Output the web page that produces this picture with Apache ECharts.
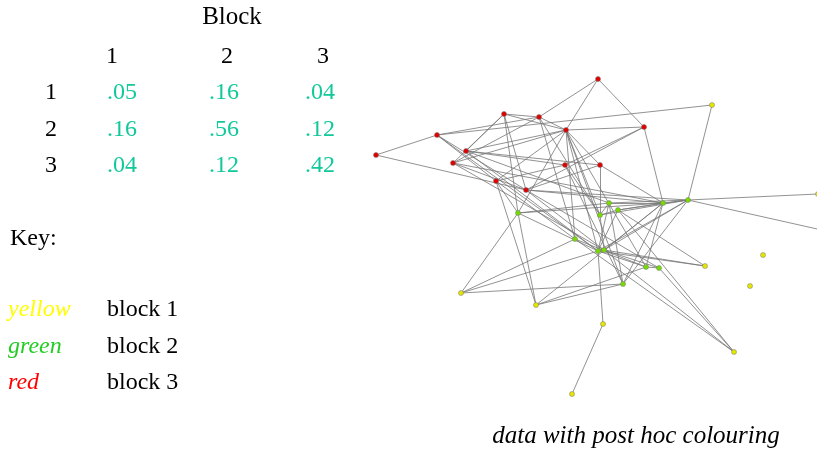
<!DOCTYPE html>
<html>
<head>
<meta charset="utf-8">
<script src="https://cdn.jsdelivr.net/npm/echarts@6/dist/echarts.min.js"></script>
<style>
  html, body { margin: 0; padding: 0; background: #fff; }
  #main { width: 817px; height: 449px; }
</style>
</head>
<body>
<div id="main"></div>
<script>
// block probability table
var blockNames = ['1', '2', '3'];
var probRow1 = ['.05', '.16', '.04'];
var probRow2 = ['.16', '.56', '.12'];
var probRow3 = ['.04', '.12', '.42'];

// key
var keyWords = ['yellow', 'green', 'red'];
var keyLabels = ['block 1', 'block 2', 'block 3'];
var keyColors = ['#ffff00', '#22cc22', '#ff0000'];

// network nodes (layout coordinates) and their block (1 yellow, 2 green, 3 red)
var nodeX = [376, 437, 504, 539, 566, 466, 453, 565, 496, 526, 598, 644, 600,
             518, 609, 618, 600, 663, 688, 575, 598, 604, 646, 659, 623,
             712, 818, 461, 536, 705, 763, 750, 603, 734, 572, 835];
var nodeY = [155, 135, 114, 117, 130, 151, 163, 165, 181, 190, 79, 127, 165,
             213, 203, 210, 215, 203, 200, 239, 251, 250, 267, 268, 284,
             105, 194, 293, 305, 266, 255, 286, 324, 352, 394, 233];
var nodeBlock = [3, 3, 3, 3, 3, 3, 3, 3, 3, 3, 3, 3, 3,
                 2, 2, 2, 2, 2, 2, 2, 2, 2, 2, 2, 2,
                 1, 1, 1, 1, 1, 1, 1, 1, 1, 1, 1];

// edges as [source, target]
var edges = [
  [0, 1], [0, 9],
  [1, 3], [1, 25], [1, 8], [1, 9], [1, 20],
  [2, 3], [2, 4], [2, 5], [2, 6], [2, 9], [2, 13],
  [3, 10], [3, 4], [3, 6], [3, 16], [3, 19],
  [4, 10], [4, 11], [4, 5], [4, 6], [4, 8], [4, 13], [4, 16], [4, 19], [4, 20], [4, 22], [4, 12], [4, 24],
  [5, 12], [5, 7], [5, 20], [5, 14],
  [6, 9], [6, 21], [6, 17],
  [7, 16], [7, 8], [7, 11], [7, 24],
  [8, 13], [8, 28], [8, 19],
  [9, 17], [9, 18], [9, 21], [9, 23],
  [10, 11],
  [11, 17], [11, 9],
  [12, 16], [12, 17], [12, 9],
  [13, 17], [13, 14], [13, 27], [13, 28], [13, 20],
  [14, 17], [14, 18], [14, 16], [14, 20],
  [15, 17], [15, 18], [15, 29], [15, 33], [15, 20], [15, 16],
  [16, 18], [16, 21],
  [17, 18], [17, 22], [17, 21], [17, 28],
  [18, 26], [18, 35], [18, 25], [18, 20], [18, 21], [18, 24],
  [19, 27], [19, 33], [19, 22],
  [20, 21], [20, 22], [20, 32], [20, 29], [20, 27],
  [21, 23], [21, 29], [21, 33],
  [22, 23], [22, 28],
  [23, 33],
  [24, 28], [24, 27], [24, 17], [24, 14],
  [32, 34]
];

var nodeFill = { 1: '#e6e600', 2: '#77dd00', 3: '#e00000' };

var myChart = echarts.init(document.getElementById('main'));

var nodes = [];
for (var i = 0; i < nodeX.length; i++) {
  nodes.push({
    value: [nodeX[i], nodeY[i]],
    itemStyle: { color: nodeFill[nodeBlock[i]] }
  });
}
var links = edges.map(function (e) {
  return { source: e[0], target: e[1] };
});

var serif = '"Liberation Serif", "DejaVu Serif", serif';
var tableColor = '#11c99a';
var graphics = [];

function txt(x, y, s, font, color, align) {
  graphics.push({ type: 'text', x: x, y: y,
    style: { text: s, font: font, fill: color, textAlign: align || 'center', textVerticalAlign: 'middle' } });
}

txt(232, 17, 'Block', '25px ' + serif, '#000');

var colX = [112, 227, 323];
var valX = [122, 224, 320];
var rowY = [93, 130, 166];
var rows = [probRow1, probRow2, probRow3];
blockNames.forEach(function (b, j) {
  txt(colX[j], 57, b, '24px ' + serif, '#000');
  txt(51, rowY[j], b, '24px ' + serif, '#000');
  rows[j].forEach(function (v, k) {
    txt(valX[k], rowY[j], v, '24px ' + serif, tableColor);
  });
});

txt(10, 239, 'Key:', '24px ' + serif, '#000', 'left');
var keyY = [310, 347, 383];
keyWords.forEach(function (w, j) {
  txt(8, keyY[j], w, 'italic 24px ' + serif, keyColors[j], 'left');
  txt(107, keyY[j], keyLabels[j], '24px ' + serif, '#000', 'left');
});

txt(636, 436, 'data with post hoc colouring', 'italic 25px ' + serif, '#000');

var option = {
  backgroundColor: '#fff',
  animation: false,
  grid: { left: 0, right: 0, top: 0, bottom: 0 },
  xAxis: { type: 'value', min: 0, max: 817, show: false },
  yAxis: { type: 'value', min: 0, max: 449, inverse: true, show: false },
  graphic: graphics,
  series: [{
    type: 'graph',
    coordinateSystem: 'cartesian2d',
    layout: 'none',
    symbol: 'circle',
    symbolSize: 5,
    data: nodes,
    links: links,
    itemStyle: { borderColor: '#777', borderWidth: 0.5 },
    lineStyle: { color: '#777', width: 1, opacity: 0.8 },
    emphasis: { disabled: true },
    z: 2
  }]
};
myChart.setOption(option);
</script>
</body>
</html>
